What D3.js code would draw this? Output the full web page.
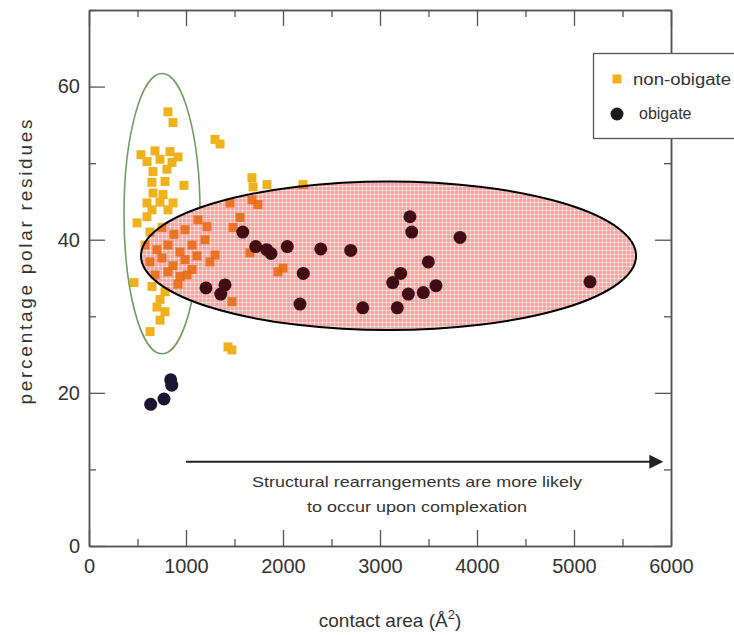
<!DOCTYPE html>
<html>
<head>
<meta charset="utf-8">
<script src="https://cdn.jsdelivr.net/npm/d3@7"></script>
<style>
  body { margin: 0; background: #fff; }
  svg { display: block; font-family: "Liberation Sans", Arial, sans-serif; }
</style>
</head>
<body>
<svg width="734" height="635"></svg>
<script>
// non-obligate complexes: [contact area, % polar residues]
const nonObligate = [
  [814, 56.7], [866, 55.3], [1299, 53.1], [1351, 52.5], [536, 51.1], [680, 51.6],
  [835, 51.5], [918, 50.8], [598, 50.2], [732, 50.5], [856, 50.1], [660, 48.9],
  [804, 49.2], [649, 47.5], [784, 47.6], [979, 47.1], [660, 46.1], [763, 45.9],
  [598, 44.8], [732, 44.9], [866, 44.8], [649, 43.9], [814, 43.9], [1680, 48.1],
  [1691, 46.9], [1835, 47.2], [2206, 47.2], [1680, 45.2], [1742, 44.6], [1454, 44.8],
  [1557, 42.9], [1485, 41.6], [1216, 41.7], [2000, 36.3], [1948, 35.8], [1660, 38.3],
  [1474, 31.9], [1433, 26.0], [1474, 25.6], [495, 42.2], [598, 43.0], [464, 34.4],
  [649, 33.9], [732, 32.2], [701, 31.2], [784, 30.6], [732, 29.5], [629, 28.0],
  [1124, 42.6], [938, 35.2], [1010, 35.4], [629, 41.0], [753, 41.6], [876, 40.7],
  [990, 41.3], [577, 39.3], [701, 38.7], [814, 39.3], [938, 38.4], [1062, 39.3],
  [629, 37.1], [753, 37.6], [866, 36.6], [990, 37.4], [1113, 37.9], [680, 35.4],
  [814, 35.8], [918, 34.2], [1062, 36.1], [784, 33.2], [1196, 40.0], [1299, 38.0],
  [1247, 37.1]
];

// obligate complexes
const obligate = [
  [1585, 41.0], [1719, 39.1], [1832, 38.7], [1876, 38.2], [2044, 39.1], [2389, 38.8],
  [2698, 38.6], [2209, 35.6], [1206, 33.7], [1402, 34.1], [1358, 32.9], [2175, 31.6],
  [2822, 31.1], [842, 21.7], [853, 21.0], [773, 19.2], [636, 18.5], [3309, 43.0],
  [3327, 41.0], [3825, 40.3], [3498, 37.1], [3213, 35.6], [3131, 34.4], [3292, 32.9],
  [3446, 33.1], [3577, 34.0], [3178, 31.1], [5165, 34.5]
];

// highlighted regions: [cx, cy, rx, ry] in data units
const smallAreaEllipse = [753, 43.4, 392, 18.3];
const largeAreaEllipse = [3088, 37.9, 2552, 9.7];

const xMajor = [0, 1000, 2000, 3000, 4000, 5000, 6000];
const xMinor = [500, 1500, 2500, 3500, 4500, 5500];
const yMajor = [0, 20, 40, 60];
const yMinor = [10, 30, 50, 70];

const arrowFrom = 1000, arrowTo = 5900, arrowAt = 11;
const noteLines = ["Structural rearrangements are more likely", "to occur upon complexation"];
const noteWidths = [330, 220];

const svg = d3.select("svg");
const x = d3.scaleLinear().domain([0, 6000]).range([89, 671]);
const y = d3.scaleLinear().domain([0, 70]).range([546, 10]);
const [ecx, ecy, erx, ery] = largeAreaEllipse;

const defs = svg.append("defs");
const pat = defs.append("pattern")
  .attr("id", "dots")
  .attr("width", 4)
  .attr("height", 4)
  .attr("patternUnits", "userSpaceOnUse");
pat.append("rect").attr("width", 4).attr("height", 4).attr("fill", "#f7a4a4");
pat.append("rect").attr("y", 2).attr("width", 4).attr("height", 1).attr("fill", "#fbc8c8");
pat.append("rect").attr("x", 2).attr("width", 1).attr("height", 4).attr("fill", "#fbc8c8");
pat.append("rect").attr("x", 2).attr("y", 2).attr("width", 1).attr("height", 1).attr("fill", "#ffffff");

defs.append("filter").attr("id", "soft")
  .append("feGaussianBlur").attr("stdDeviation", 0.6);

defs.append("clipPath").attr("id", "inEllipse")
  .append("ellipse")
  .attr("cx", x(ecx))
  .attr("cy", y(ecy))
  .attr("rx", x(erx) - x(0))
  .attr("ry", y(0) - y(ery));

function squares(g, fill, opacity) {
  g.selectAll("rect")
    .data(nonObligate)
    .enter()
    .append("rect")
    .attr("x", (d) => x(d[0]) - 4.5)
    .attr("y", (d) => y(d[1]) - 4.5)
    .attr("width", 9)
    .attr("height", 9)
    .attr("fill", fill)
    .attr("opacity", opacity)
    .attr("filter", "url(#soft)");
}

// points
svg.append("g").call(squares, "#efb21e", 1);

svg.append("ellipse")
  .attr("cx", x(smallAreaEllipse[0]))
  .attr("cy", y(smallAreaEllipse[1]))
  .attr("rx", x(smallAreaEllipse[2]) - x(0))
  .attr("ry", y(0) - y(smallAreaEllipse[3]))
  .attr("fill", "none")
  .attr("stroke", "#6f9e62")
  .attr("stroke-width", 1.6);

svg.append("ellipse")
  .attr("cx", x(ecx))
  .attr("cy", y(ecy))
  .attr("rx", x(erx) - x(0))
  .attr("ry", y(0) - y(ery))
  .attr("fill", "url(#dots)")
  .attr("stroke", "none");

// squares seen through the tinted region
svg.append("g").attr("clip-path", "url(#inEllipse)").call(squares, "#e8690e", 0.85);

const inside = (d) =>
  ((d[0] - ecx) / erx) ** 2 + ((d[1] - ecy) / ery) ** 2 < 1;

svg.append("g")
  .selectAll("circle")
  .data(obligate)
  .enter()
  .append("circle")
  .attr("cx", (d) => x(d[0]))
  .attr("cy", (d) => y(d[1]))
  .attr("r", 6.5)
  .attr("fill", (d) => (inside(d) ? "#3f0d12" : "#1b1330"))
  .attr("filter", "url(#soft)");

svg.append("ellipse")
  .attr("cx", x(ecx))
  .attr("cy", y(ecy))
  .attr("rx", x(erx) - x(0))
  .attr("ry", y(0) - y(ery))
  .attr("fill", "none")
  .attr("stroke", "#000")
  .attr("stroke-width", 2);

// frame and ticks
function styleAxis(g) {
  g.select(".domain").attr("stroke", "#555").attr("stroke-width", 1.5);
  g.selectAll(".tick line").attr("stroke", "#555").attr("stroke-width", 1.3);
  g.selectAll(".tick text")
    .attr("fill", "#333")
    .attr("font-size", 20)
    .attr("font-family", "Liberation Sans, Arial, sans-serif");
}
const fmt = d3.format("d");

svg.append("g")
  .attr("transform", `translate(0,${y(0)})`)
  .call(d3.axisBottom(x).tickValues(xMajor).tickSize(-16).tickSizeOuter(0).tickPadding(13).tickFormat(fmt))
  .call(styleAxis);
svg.append("g")
  .attr("transform", `translate(0,${y(0)})`)
  .call(d3.axisBottom(x).tickValues(xMinor).tickSize(-7).tickSizeOuter(0).tickFormat(""))
  .call(styleAxis);
svg.append("g")
  .attr("transform", `translate(0,${y(70)})`)
  .call(d3.axisTop(x).tickValues(xMajor).tickSize(-16).tickSizeOuter(0).tickFormat(""))
  .call(styleAxis);
svg.append("g")
  .attr("transform", `translate(0,${y(70)})`)
  .call(d3.axisTop(x).tickValues(xMinor).tickSize(-7).tickSizeOuter(0).tickFormat(""))
  .call(styleAxis);
svg.append("g")
  .attr("transform", `translate(${x(0)},0)`)
  .call(d3.axisLeft(y).tickValues(yMajor).tickSize(-16).tickSizeOuter(0).tickPadding(9).tickFormat(fmt))
  .call(styleAxis);
svg.append("g")
  .attr("transform", `translate(${x(0)},0)`)
  .call(d3.axisLeft(y).tickValues(yMinor).tickSize(-7).tickSizeOuter(0).tickFormat(""))
  .call(styleAxis);
svg.append("g")
  .attr("transform", `translate(${x(6000)},0)`)
  .call(d3.axisRight(y).tickValues(yMajor).tickSize(-16).tickSizeOuter(0).tickFormat(""))
  .call(styleAxis);
svg.append("g")
  .attr("transform", `translate(${x(6000)},0)`)
  .call(d3.axisRight(y).tickValues(yMinor).tickSize(-7).tickSizeOuter(0).tickFormat(""))
  .call(styleAxis);

// arrow and note
svg.append("line")
  .attr("x1", x(arrowFrom))
  .attr("x2", x(arrowTo) - 10)
  .attr("y1", y(arrowAt))
  .attr("y2", y(arrowAt))
  .attr("stroke", "#222")
  .attr("stroke-width", 2);
svg.append("path")
  .attr("d", `M${x(arrowTo) + 2},${y(arrowAt)} l-14,-7 l0,14 z`)
  .attr("fill", "#222");

svg.append("g")
  .selectAll("text")
  .data(noteLines)
  .enter()
  .append("text")
  .attr("x", 417)
  .attr("y", (d, i) => y(arrowAt) + 25 + i * 25)
  .attr("text-anchor", "middle")
  .attr("font-size", 15)
  .attr("textLength", (d, i) => noteWidths[i])
  .attr("lengthAdjust", "spacingAndGlyphs")
  .attr("fill", "#333")
  .text((d) => d);

// axis titles
const xt = svg.append("text")
  .attr("x", 390)
  .attr("y", 627)
  .attr("text-anchor", "middle")
  .attr("font-size", 19)
  .attr("fill", "#333");
xt.append("tspan").text("contact area (Å");
xt.append("tspan").attr("dy", -8).attr("font-size", 13).text("2");
xt.append("tspan").attr("dy", 8).text(")");

svg.append("text")
  .attr("transform", "translate(32,262)rotate(-90)")
  .attr("text-anchor", "middle")
  .attr("font-size", 19)
  .attr("textLength", 285)
  .attr("lengthAdjust", "spacing")
  .attr("fill", "#333")
  .text("percentage polar residues");

// legend
const legend = svg.append("g");
legend.append("rect")
  .attr("x", 593.5)
  .attr("y", 53.5)
  .attr("width", 150)
  .attr("height", 85)
  .attr("fill", "#fff")
  .attr("stroke", "#555")
  .attr("stroke-width", 1.3);
legend.append("rect")
  .attr("x", 612.5)
  .attr("y", 74.5)
  .attr("width", 9)
  .attr("height", 9)
  .attr("fill", "#efb21e");
legend.append("text")
  .attr("x", 633)
  .attr("y", 85)
  .attr("font-size", 16)
  .attr("textLength", 98)
  .attr("lengthAdjust", "spacingAndGlyphs")
  .attr("fill", "#333")
  .text("non-obigate");
legend.append("circle")
  .attr("cx", 617)
  .attr("cy", 114)
  .attr("r", 6.5)
  .attr("fill", "#1b1b1b");
legend.append("text")
  .attr("x", 639)
  .attr("y", 119)
  .attr("font-size", 16)
  .attr("fill", "#333")
  .text("obigate");
</script>
</body>
</html>
